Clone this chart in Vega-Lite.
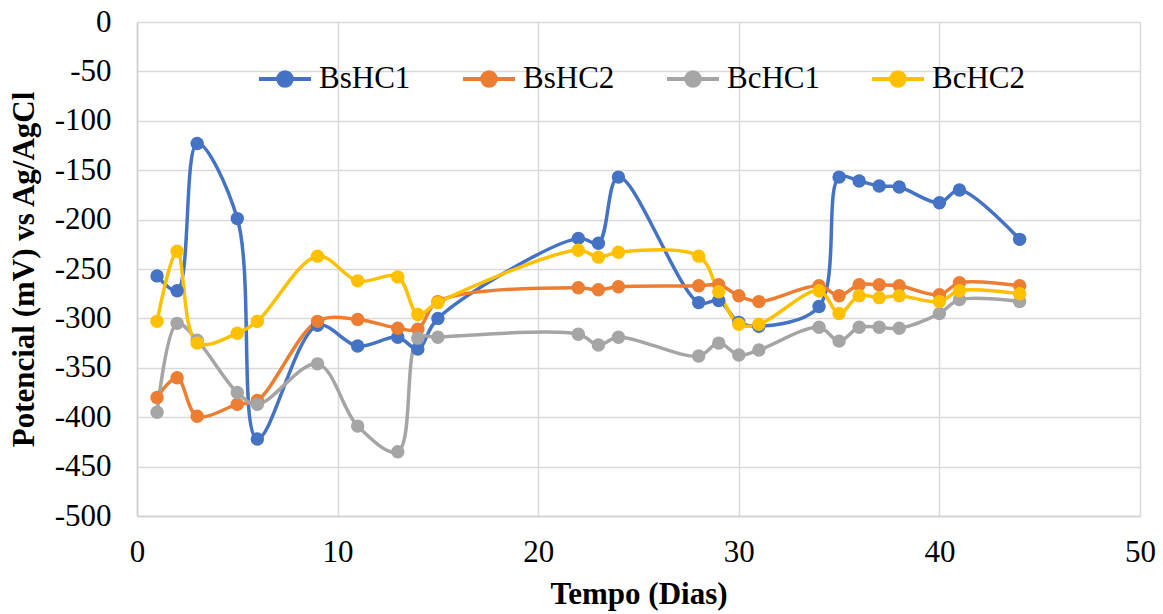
{
  "$schema": "https://vega.github.io/schema/vega-lite/v6.json",
  "width": 1003,
  "height": 494,
  "autosize": "none",
  "padding": {"left": 137, "top": 22, "right": 23, "bottom": 98},
  "background": "white",
  "config": {
    "view": {"stroke": null},
    "font": "Liberation Serif",
    "axis": {
      "labelFont": "Liberation Serif",
      "titleFont": "Liberation Serif",
      "labelColor": "#000000",
      "titleColor": "#000000",
      "gridColor": "#D9D9D9",
      "gridWidth": 1.5,
      "domainColor": "#D0D0D0",
      "domainWidth": 1.5,
      "ticks": false,
      "labelFlush": false
    }
  },
  "data": {
    "values": [
      {"dia": 1, "serie": "BsHC1", "mv": -257},
      {"dia": 2, "serie": "BsHC1", "mv": -272},
      {"dia": 3, "serie": "BsHC1", "mv": -123},
      {"dia": 5, "serie": "BsHC1", "mv": -199},
      {"dia": 6, "serie": "BsHC1", "mv": -422},
      {"dia": 9, "serie": "BsHC1", "mv": -307},
      {"dia": 11, "serie": "BsHC1", "mv": -328},
      {"dia": 13, "serie": "BsHC1", "mv": -319},
      {"dia": 14, "serie": "BsHC1", "mv": -331},
      {"dia": 15, "serie": "BsHC1", "mv": -300},
      {"dia": 22, "serie": "BsHC1", "mv": -219},
      {"dia": 23, "serie": "BsHC1", "mv": -224},
      {"dia": 24, "serie": "BsHC1", "mv": -157},
      {"dia": 28, "serie": "BsHC1", "mv": -284},
      {"dia": 29, "serie": "BsHC1", "mv": -282},
      {"dia": 30, "serie": "BsHC1", "mv": -304},
      {"dia": 31, "serie": "BsHC1", "mv": -308},
      {"dia": 34, "serie": "BsHC1", "mv": -288},
      {"dia": 35, "serie": "BsHC1", "mv": -157},
      {"dia": 36, "serie": "BsHC1", "mv": -161},
      {"dia": 37, "serie": "BsHC1", "mv": -166},
      {"dia": 38, "serie": "BsHC1", "mv": -167},
      {"dia": 40, "serie": "BsHC1", "mv": -183},
      {"dia": 41, "serie": "BsHC1", "mv": -170},
      {"dia": 44, "serie": "BsHC1", "mv": -220},

      {"dia": 1, "serie": "BsHC2", "mv": -380},
      {"dia": 2, "serie": "BsHC2", "mv": -360},
      {"dia": 3, "serie": "BsHC2", "mv": -399},
      {"dia": 5, "serie": "BsHC2", "mv": -387},
      {"dia": 6, "serie": "BsHC2", "mv": -383},
      {"dia": 9, "serie": "BsHC2", "mv": -303},
      {"dia": 11, "serie": "BsHC2", "mv": -301},
      {"dia": 13, "serie": "BsHC2", "mv": -310},
      {"dia": 14, "serie": "BsHC2", "mv": -311},
      {"dia": 15, "serie": "BsHC2", "mv": -283},
      {"dia": 22, "serie": "BsHC2", "mv": -269},
      {"dia": 23, "serie": "BsHC2", "mv": -271},
      {"dia": 24, "serie": "BsHC2", "mv": -268},
      {"dia": 28, "serie": "BsHC2", "mv": -267},
      {"dia": 29, "serie": "BsHC2", "mv": -266},
      {"dia": 30, "serie": "BsHC2", "mv": -277},
      {"dia": 31, "serie": "BsHC2", "mv": -283},
      {"dia": 34, "serie": "BsHC2", "mv": -267},
      {"dia": 35, "serie": "BsHC2", "mv": -277},
      {"dia": 36, "serie": "BsHC2", "mv": -266},
      {"dia": 37, "serie": "BsHC2", "mv": -266},
      {"dia": 38, "serie": "BsHC2", "mv": -267},
      {"dia": 40, "serie": "BsHC2", "mv": -276},
      {"dia": 41, "serie": "BsHC2", "mv": -264},
      {"dia": 44, "serie": "BsHC2", "mv": -267},

      {"dia": 1, "serie": "BcHC1", "mv": -395},
      {"dia": 2, "serie": "BcHC1", "mv": -305},
      {"dia": 3, "serie": "BcHC1", "mv": -322},
      {"dia": 5, "serie": "BcHC1", "mv": -375},
      {"dia": 6, "serie": "BcHC1", "mv": -387},
      {"dia": 9, "serie": "BcHC1", "mv": -346},
      {"dia": 11, "serie": "BcHC1", "mv": -409},
      {"dia": 13, "serie": "BcHC1", "mv": -435},
      {"dia": 14, "serie": "BcHC1", "mv": -320},
      {"dia": 15, "serie": "BcHC1", "mv": -319},
      {"dia": 22, "serie": "BcHC1", "mv": -316},
      {"dia": 23, "serie": "BcHC1", "mv": -327},
      {"dia": 24, "serie": "BcHC1", "mv": -319},
      {"dia": 28, "serie": "BcHC1", "mv": -338},
      {"dia": 29, "serie": "BcHC1", "mv": -325},
      {"dia": 30, "serie": "BcHC1", "mv": -337},
      {"dia": 31, "serie": "BcHC1", "mv": -332},
      {"dia": 34, "serie": "BcHC1", "mv": -309},
      {"dia": 35, "serie": "BcHC1", "mv": -323},
      {"dia": 36, "serie": "BcHC1", "mv": -309},
      {"dia": 37, "serie": "BcHC1", "mv": -309},
      {"dia": 38, "serie": "BcHC1", "mv": -310},
      {"dia": 40, "serie": "BcHC1", "mv": -295},
      {"dia": 41, "serie": "BcHC1", "mv": -281},
      {"dia": 44, "serie": "BcHC1", "mv": -283},

      {"dia": 1, "serie": "BcHC2", "mv": -303},
      {"dia": 2, "serie": "BcHC2", "mv": -232},
      {"dia": 3, "serie": "BcHC2", "mv": -325},
      {"dia": 5, "serie": "BcHC2", "mv": -315},
      {"dia": 6, "serie": "BcHC2", "mv": -303},
      {"dia": 9, "serie": "BcHC2", "mv": -237},
      {"dia": 11, "serie": "BcHC2", "mv": -262},
      {"dia": 13, "serie": "BcHC2", "mv": -258},
      {"dia": 14, "serie": "BcHC2", "mv": -296},
      {"dia": 15, "serie": "BcHC2", "mv": -284},
      {"dia": 22, "serie": "BcHC2", "mv": -231},
      {"dia": 23, "serie": "BcHC2", "mv": -238},
      {"dia": 24, "serie": "BcHC2", "mv": -233},
      {"dia": 28, "serie": "BcHC2", "mv": -237},
      {"dia": 29, "serie": "BcHC2", "mv": -273},
      {"dia": 30, "serie": "BcHC2", "mv": -306},
      {"dia": 31, "serie": "BcHC2", "mv": -306},
      {"dia": 34, "serie": "BcHC2", "mv": -272},
      {"dia": 35, "serie": "BcHC2", "mv": -295},
      {"dia": 36, "serie": "BcHC2", "mv": -277},
      {"dia": 37, "serie": "BcHC2", "mv": -279},
      {"dia": 38, "serie": "BcHC2", "mv": -277},
      {"dia": 40, "serie": "BcHC2", "mv": -283},
      {"dia": 41, "serie": "BcHC2", "mv": -272},
      {"dia": 44, "serie": "BcHC2", "mv": -275}
    ]
  },
  "encoding": {
    "x": {
      "field": "dia",
      "type": "quantitative",
      "scale": {"domain": [0, 50], "nice": false, "zero": false},
      "axis": {
        "title": "Tempo (Dias)",
        "values": [0, 10, 20, 30, 40, 50],
        "labelExpr": "toString(datum.value)",
        "labelFont": "Liberation Serif",
        "labelFontSize": 31,
        "labelPadding": 21,
        "labelFlush": false,
        "titleFont": "Liberation Serif",
        "titleFontSize": 31,
        "titleFontWeight": "bold",
        "titlePadding": 12,
        "grid": true
      }
    },
    "y": {
      "field": "mv",
      "type": "quantitative",
      "scale": {"domain": [-500, 0], "nice": false, "zero": false},
      "axis": {
        "title": "Potencial (mV) vs Ag/AgCl",
        "values": [0, -50, -100, -150, -200, -250, -300, -350, -400, -450, -500],
        "labelExpr": "toString(datum.value)",
        "labelFont": "Liberation Serif",
        "labelFontSize": 31,
        "labelPadding": 26,
        "labelFlush": false,
        "titleFont": "Liberation Serif",
        "titleFontSize": 31,
        "titleFontWeight": "bold",
        "titlePadding": 14,
        "grid": true
      }
    },
    "color": {
      "field": "serie",
      "type": "nominal",
      "sort": ["BsHC1", "BsHC2", "BcHC1", "BcHC2"],
      "scale": {
        "domain": ["BsHC1", "BsHC2", "BcHC1", "BcHC2"],
        "range": ["#4472C4", "#ED7D31", "#A5A5A5", "#FFC000"]
      },
      "legend": {
        "title": null,
        "orient": "none",
        "direction": "horizontal",
        "legendX": 120,
        "legendY": 29,
        "labelFont": "Liberation Serif",
        "labelFontSize": 31,
        "labelColor": "#000000",
        "labelLimit": 200,
        "columnPadding": 44,
        "labelOffset": 6,
        "symbolType": "M-1,0H1M0.26,0A0.26,0.26 0 1,1 -0.26,0A0.26,0.26 0 1,1 0.26,0Z",
        "symbolSize": 2700,
        "symbolStrokeWidth": 4,
        "encode": {
          "symbols": {
            "update": {
              "fill": {"scale": "color", "field": "value"},
              "stroke": {"scale": "color", "field": "value"},
              "fillOpacity": {"value": 1},
              "strokeWidth": {"value": 4}
            }
          }
        }
      }
    }
  },
  "layer": [
    {
      "mark": {"type": "line", "interpolate": "catmull-rom", "strokeWidth": 3.5}
    },
    {
      "mark": {"type": "point", "filled": true, "size": 180, "opacity": 1}
    }
  ]
}
